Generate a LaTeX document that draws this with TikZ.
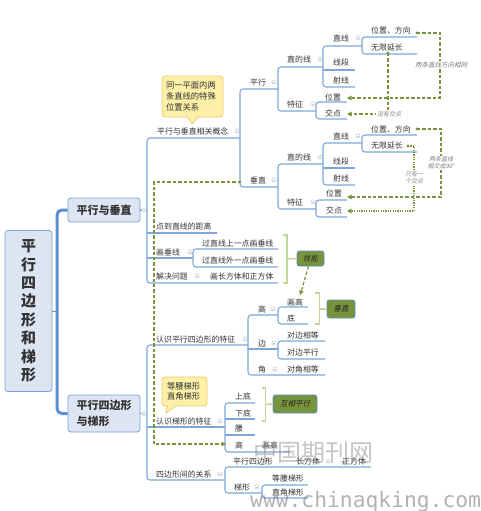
\documentclass[tikz,border=0pt]{standalone}
\usepackage{fontspec}
\setmainfont{Noto Sans CJK SC}
\newfontfamily\slfont{Noto Sans CJK SC}[FakeSlant=0.22]
\newfontfamily\wmmono{DejaVu Sans Mono}
\usetikzlibrary{arrows.meta}
\definecolor{ln}{HTML}{7EA6DA}
\definecolor{thickln}{HTML}{5B8FD6}
\definecolor{txt}{HTML}{333333}
\definecolor{boxfill}{HTML}{DCE5F1}
\definecolor{boxdraw}{HTML}{7BA2D6}
\definecolor{grn}{HTML}{77933C}
\definecolor{lgrn}{HTML}{C4D79B}
\definecolor{yfill}{HTML}{FCF0A8}
\definecolor{ydraw}{HTML}{F0CC66}
\definecolor{lab}{HTML}{7F7F7F}
\definecolor{icn}{HTML}{B8C4D4}
\definecolor{gboxdraw}{HTML}{5E8CC8}
\newcommand\grp[5]{\draw[br] (#3,#2) -- (#1,#2) -- (#1,#4) -- (#5,#4);}
\newcommand\hln[3]{\draw[br] (#1,#3) -- (#2,#3);}
\newcommand\cicon[2]{\filldraw[draw=icn,fill=white,line width=0.4pt] (#1,#2) circle (2.2);\draw[draw=icn,line width=0.4pt] (#1-1.2,#2) -- (#1+1.2,#2);}
\begin{document}
\begin{tikzpicture}[x=1pt,y=-1pt,
  t/.style={font=\fontsize{7.9}{9}\selectfont, text=txt, inner sep=0pt, anchor=base west},
  br/.style={draw=ln, line width=1.1pt, rounded corners=3pt},
  lvone/.style={draw=boxdraw, fill=boxfill, rounded corners=3pt, line width=0.8pt, inner sep=0pt, text=txt, font=\fontsize{11}{16}\selectfont\bfseries},
  gbox/.style={fill=grn, draw=gboxdraw, rounded corners=2.5pt, line width=0.8pt, inner sep=0pt, text=black!85, font=\slfont\fontsize{7.5}{9}\selectfont},
  gbr/.style={draw=lgrn, line width=1.6pt},
  gdash/.style={draw=grn, line width=1.2pt, dash pattern=on 3.4pt off 2pt},
  gdot/.style={draw=grn, line width=1.2pt, dash pattern=on 1.2pt off 1.2pt},
  tip/.style={-{Triangle[length=4.5pt,width=4.5pt]}},
  lbl/.style={font=\slfont\fontsize{6}{7.4}\selectfont, text=lab, fill=white, inner sep=0.6pt, align=center},
  callout/.style={draw=ydraw, fill=yfill, rounded corners=3pt, line width=0.8pt, inner sep=0pt, align=left, text=txt}
]
\useasboundingbox[fill=white] (0,0) rectangle (480,511);

% root and level one
\node[lvone, minimum width=47pt, minimum height=161pt, align=center, font=\fontsize{15}{18.4}\selectfont\bfseries] (root) at (28.5,311) {平\\行\\四\\边\\形\\和\\梯\\形};
\node[lvone, minimum width=72pt, minimum height=24pt] (l1a) at (104,210) {平行与垂直};
\node[lvone, minimum width=72pt, minimum height=37pt, align=left] (l1b) at (104,413.5) {平行四边形\\与梯形};
\draw[draw=thickln, line width=3pt, rounded corners=5pt] (l1a.west) -- (57,210) -- (57,413.5) -- (l1b.west);
\draw[draw=thickln, line width=0.8pt] (root.east) -- (57,311);
\draw[br] (l1a.east) -- (147,210);
\draw[br] (l1b.east) -- (147,413.5);

% ---------- group A lines
\grp{147}{138}{240}{283}{278}
\hln{147}{217}{233}
\hln{147}{193}{258}
\grp{193}{249}{278}{267}{278}
\grp{240}{89}{278}{187}{278}
\grp{278}{67}{323}{111}{316}
\grp{323}{46}{362}{87}{355}
\hln{323}{355}{70}
\grp{362}{37}{417}{54}{417}
\grp{316}{102}{347}{119}{347}
\grp{278}{164}{323}{209}{316}
\grp{323}{143}{362}{185}{355}
\hln{323}{355}{168}
\grp{362}{135}{417}{152}{417}
\grp{316}{200}{347}{217}{347}

% ---------- group B lines
\grp{147}{345}{248}{480}{225}
\hln{147}{225}{427}
\grp{248}{315}{278}{375}{325}
\hln{248}{278}{349}
\grp{278}{307}{308}{324}{308}
\grp{278}{341}{325}{359}{325}
\grp{225}{403}{255}{452}{290}
\hln{225}{255}{419}
\hln{225}{255}{435}
\grp{225}{467}{371}{493}{262}
\grp{262}{485}{308}{498}{308}

% ---------- texts group A
\node[t] (a1) at (157,134) {平行与垂直相关概念};
\node[t] (a11) at (250,85) {平行};
\node[t] (a111) at (287,63) {直的线};
\node[t] (a1111) at (333,42) {直线};
\node[t] (a11111) at (371,34) {位置、方向};
\node[t] (a11112) at (371,51) {无限延长};
\node[t] (a1112) at (333,66) {线段};
\node[t] (a1113) at (333,83) {射线};
\node[t] (a112) at (287,107) {特征};
\node[t] (a1121) at (325,100) {位置};
\node[t] (a1122) at (325,116) {交点};
\node[t] (a12) at (250,183) {垂直};
\node[t] (a121) at (287,160) {直的线};
\node[t] (a1211) at (333,139) {直线};
\node[t] (a12111) at (371,132) {位置、方向};
\node[t] (a12112) at (371,148) {无限延长};
\node[t] (a1212) at (333,164) {线段};
\node[t] (a1213) at (333,181) {射线};
\node[t] (a122) at (287,205) {特征};
\node[t] (a1221) at (326,196) {位置};
\node[t] (a1222) at (326,213) {交点};
\node[t] (a2) at (156,229) {点到直线的距离};
\node[t] (a3) at (156,255) {画垂线};
\node[t] (a31) at (202,246) {过直线上一点画垂线};
\node[t] (a32) at (202,263) {过直线外一点画垂线};
\node[t] (a4) at (156,279) {解决问题};
\node[t] (a41) at (210,279) {画长方体和正方体};

% ---------- texts group B
\node[t] (b1) at (156,342) {认识平行四边形的特征};
\node[t] (b11) at (258,312) {高};
\node[t] (b111) at (287,305) {画高};
\node[t] (b112) at (287,321) {底};
\node[t] (b12) at (258,346) {边};
\node[t] (b121) at (287,338) {对边相等};
\node[t] (b122) at (287,355) {对边平行};
\node[t] (b13) at (258,372) {角};
\node[t] (b131) at (287,372) {对角相等};
\node[t] (b2) at (156,424) {认识梯形的特征};
\node[t] (b21) at (235,399) {上底};
\node[t] (b22) at (235,416) {下底};
\node[t] (b23) at (235,431) {腰};
\node[t] (b24) at (235,448) {高};
\node[t] (b241) at (262,448) {画高};
\node[t] (b3) at (156,477) {四边形间的关系};
\node[t] (b31) at (233,464) {平行四边形};
\node[t] (b311) at (296,464) {长方体};
\node[t] (b3111) at (342,464) {正方体};
\node[t] (b32) at (234,490) {梯形};
\node[t] (b321) at (272,481) {等腰梯形};
\node[t] (b322) at (272,495) {直角梯形};

% ---------- collapse icons
\cicon{144}{210}\cicon{144}{413.5}\cicon{237}{131}\cicon{274}{82}\cicon{320}{59}
\cicon{313}{104}\cicon{358}{38}\cicon{274}{180}\cicon{320}{157}\cicon{358}{136}
\cicon{313}{202}\cicon{190}{252}\cicon{197}{276}\cicon{245}{339}\cicon{273}{309}
\cicon{274}{343}\cicon{275}{369}\cicon{220}{421}\cicon{220}{474}\cicon{328}{461}
\cicon{257}{487}

% ---------- callouts
\node[callout, minimum width=61pt, minimum height=41pt, text width=53pt, font=\fontsize{8.3}{11}\selectfont] (c1) at (192.5,96.5) {同一平面内两\\条直线的特殊\\位置关系};
\fill[yfill] (187.5,115.4) -- (192.5,124) -- (197.5,115.4) -- cycle;
\draw[draw=ydraw, line width=0.8pt, line join=round] (187,116.5) -- (192.5,124) -- (198,116.5);
\node[callout, minimum width=45pt, minimum height=29pt, text width=35pt, font=\fontsize{8.3}{10}\selectfont] (c2) at (184.5,391.5) {等腰梯形\\直角梯形};
\fill[yfill] (168,404.4) -- (166,413) -- (176,404.4) -- cycle;
\draw[draw=ydraw, line width=0.8pt, line join=round] (167.5,405.5) -- (166,413) -- (176.5,405.5);

% ---------- green brackets and boxes
\node[gbox, minimum width=27pt, minimum height=15pt] (skill) at (310.5,258.5) {技能};
\draw[gbr] (283,235) -- (287,235) -- (287,283) -- (283,283);
\draw[gbr] (287,259) -- (skill.west);
\node[gbox, minimum width=28pt, minimum height=18pt] (perp) at (341,309) {垂直};
\draw[gbr] (315,293) -- (319.5,293) -- (319.5,324) -- (315,324);
\draw[gbr] (319.5,309) -- (perp.west);
\node[gbox, minimum width=44pt, minimum height=18pt] (para) at (295,404) {互相平行};
\draw[gbr] (261.5,388) -- (265.5,388) -- (265.5,421) -- (261.5,421);
\draw[gbr] (265.5,404.5) -- (para.west);
\draw[gdash, tip] ([xshift=-2pt]skill.south) -- ([xshift=5pt,yshift=3pt]b111.north);

% ---------- green relation arrows
\coordinate (p1) at (417,33);
\fill[grn] (p1) circle (1.7);
\draw[gdash, tip] (p1) -- (440,33) -- (440,98) -- (347,98);
\node[lbl, font=\slfont\fontsize{6.5}{7.4}\selectfont] (lab1) at (441,65) {两条直线方向相同};
\coordinate (p2) at (388,53);
\fill[grn] (p2) circle (1.7);
\draw[gdash, tip] (p2) -- (388,114) -- (347,114);
\node[lbl] (lab2) at (389,114) {没有交点};
\coordinate (p3) at (417,129);
\fill[grn] (p3) circle (1.7);
\draw[gdash, tip] (p3) -- (441,129) -- (441,197) -- (347,197);
\node[lbl] (lab3) at (441,163) {两条直线\\相交成90°};
\coordinate (p4) at (408,146);
\fill[grn] (p4) circle (1.7);
\draw[gdot, tip] (p4) -- (414,146) -- (414,211) -- (347,211);
\node[lbl] (lab4) at (414,178) {只有一\\个交点};
\coordinate (p5) at (241,182);
\draw[gdash, tip] (p5) -- (154,182) -- (154,444) -- (226,444);

% ---------- watermark
\node[font=\fontsize{24}{24}\selectfont, text=gray, opacity=0.45, inner sep=0pt] (wm1) at (313,452) {中国期刊网};
\node[font=\wmmono\fontsize{21.3}{22}\selectfont, text=gray, opacity=0.6, anchor=base west, inner sep=0pt] (wm2) at (250,507) {www.chinaqking.com};
\end{tikzpicture}
\end{document}
